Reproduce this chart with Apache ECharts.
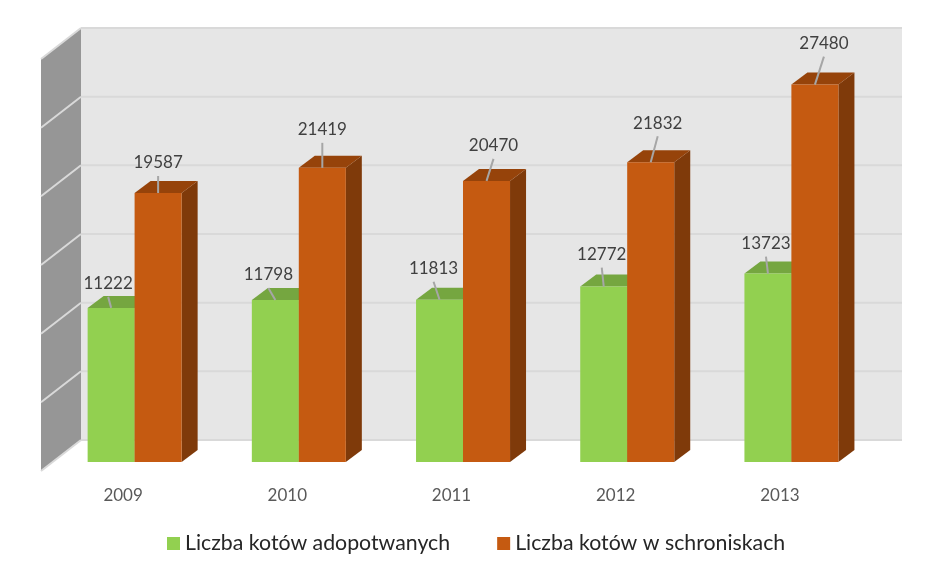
<!DOCTYPE html>
<html>
<head>
<meta charset="utf-8">
<style>
  html, body { margin: 0; padding: 0; background: #fff; }
  #chart { width: 945px; height: 576px; }
</style>
<script src="https://cdn.jsdelivr.net/npm/echarts@6/dist/echarts.min.js"></script>
</head>
<body>
<div id="chart"></div>
<script>
var years = ['2009', '2010', '2011', '2012', '2013'];
var adopted = [11222, 11798, 11813, 12772, 13723];
var sheltered = [19587, 21419, 20470, 21832, 27480];
var yTicks = [0, 5000, 10000, 15000, 20000, 25000, 30000];
var names = ['Liczba kotów adopotwanych', 'Liczba kotów w schroniskach'];

// where each value label sits, relative to the middle of the bar's top edge
var adoptedLabelShift = [[-3, -24], [-7, -25], [-6, -31], [-2, -32], [-2, -30]];
var shelteredLabelShift = [[0, -30], [0, -38], [7, -35], [7, -39], [9, -41]];

var chartFont = 'Lato';
var wallDepth = [40, -31];
var barDepth = [16, -12];
var barLift = -9; // bars stand a bit behind the front edge of the floor

function poly(points, color) {
  return { type: 'polygon', shape: { points: points }, style: { fill: color } };
}

function renderWalls(params, api) {
  var base = api.coord([0, api.value(0)]);
  var left = params.coordSys.x;
  var right = left + params.coordSys.width;
  var y = base[1];
  var dx = wallDepth[0], dy = wallDepth[1];
  var children = [];
  // the walls are drawn once, with the first tick
  if (params.dataIndex === 0) {
    var top = api.coord([0, yTicks[yTicks.length - 1]])[1];
    children.push(poly([[left + dx, top + dy], [right + dx, top + dy], [right + dx, y + dy], [left + dx, y + dy]], '#e6e6e6'));
    children.push(poly([[left, top], [left + dx, top + dy], [left + dx, y + dy], [left, y]], '#969696'));
  }
  return { type: 'group', children: children };
}

function renderLines(params, api) {
  var y = api.coord([0, api.value(0)])[1];
  var left = params.coordSys.x;
  var right = left + params.coordSys.width;
  var dx = wallDepth[0], dy = wallDepth[1];
  return {
    type: 'group',
    children: [
      { type: 'line', shape: { x1: left + dx, y1: y + dy, x2: right + dx, y2: y + dy }, style: { stroke: '#d9d9d9', lineWidth: 2 } },
      { type: 'line', shape: { x1: left, y1: y, x2: left + dx, y2: y + dy }, style: { stroke: '#d9d9d9', lineWidth: 2 } }
    ]
  };
}

function barRenderer(startRatio, colors, shifts) {
  return function (params, api) {
    var i = api.value(0);
    var val = api.value(1);
    var p = api.coord([i, val]);
    var p0 = api.coord([i, 0]);
    var band = api.size([1, 0])[0];
    var x1 = p[0] + band * startRatio;
    var x2 = x1 + band * 0.2865;
    var yt = p[1] + barLift;
    var yb = p0[1] + barLift;
    var dx = barDepth[0], dy = barDepth[1];
    var mid = (x1 + x2) / 2;
    var lx = mid + shifts[i][0];
    var ly = yt + shifts[i][1];
    return {
      type: 'group',
      children: [
        poly([[x2, yt], [x2 + dx, yt + dy], [x2 + dx, yb + dy], [x2, yb]], colors[2]),
        poly([[x1, yt], [x1 + dx, yt + dy], [x2 + dx, yt + dy], [x2, yt]], colors[1]),
        { type: 'rect', shape: { x: x1, y: yt, width: x2 - x1, height: yb - yt }, style: { fill: colors[0] } },
        { type: 'line', shape: { x1: mid, y1: yt, x2: lx, y2: ly + 13 }, style: { stroke: '#a6a6a6', lineWidth: 2 } },
        {
          type: 'text',
          x: lx, y: ly,
          style: {
            text: String(val), fill: '#404040', font: '17px ' + chartFont,
            align: 'center', verticalAlign: 'middle'
          }
        }
      ]
    };
  };
}

var chart = echarts.init(document.getElementById('chart'));

chart.setOption({
  animation: false,
  backgroundColor: '#ffffff',
  textStyle: { fontFamily: chartFont },
  grid: { left: 41, right: 83, top: 59, bottom: 105 },
  legend: {
    data: names,
    icon: 'rect',
    left: 162,
    top: 528,
    itemWidth: 13,
    itemHeight: 13,
    itemGap: 47,
    textStyle: { fontFamily: chartFont, fontSize: 21.3, color: '#262626' }
  },
  xAxis: {
    type: 'category',
    data: years,
    axisLine: { show: false },
    axisTick: { show: false },
    axisLabel: { margin: 16, fontFamily: chartFont, fontSize: 17, color: '#595959' }
  },
  yAxis: {
    type: 'value',
    min: 0,
    max: 30000,
    interval: 5000,
    axisLine: { show: false },
    axisTick: { show: false },
    axisLabel: { show: false },
    splitLine: { show: false }
  },
  series: [
    {
      type: 'custom',
      silent: true,
      renderItem: renderWalls,
      data: yTicks.map(function (t) { return [t]; }),
      encode: { y: 0 }
    },
    {
      type: 'custom',
      silent: true,
      renderItem: renderLines,
      data: yTicks.map(function (t) { return [t]; }),
      encode: { y: 0 }
    },
    {
      name: names[0],
      type: 'custom',
      itemStyle: { color: '#92d050' },
      renderItem: barRenderer(-0.216, ['#92d050', '#75a640', '#5f8a33'], adoptedLabelShift),
      data: adopted.map(function (v, i) { return [i, v]; }),
      encode: { x: 0, y: 1 }
    },
    {
      name: names[1],
      type: 'custom',
      itemStyle: { color: '#c55a11' },
      renderItem: barRenderer(0.07, ['#c55a11', '#96430a', '#7f3a0a'], shelteredLabelShift),
      data: sheltered.map(function (v, i) { return [i, v]; }),
      encode: { x: 0, y: 1 }
    }
  ]
});
</script>
</body>
</html>
